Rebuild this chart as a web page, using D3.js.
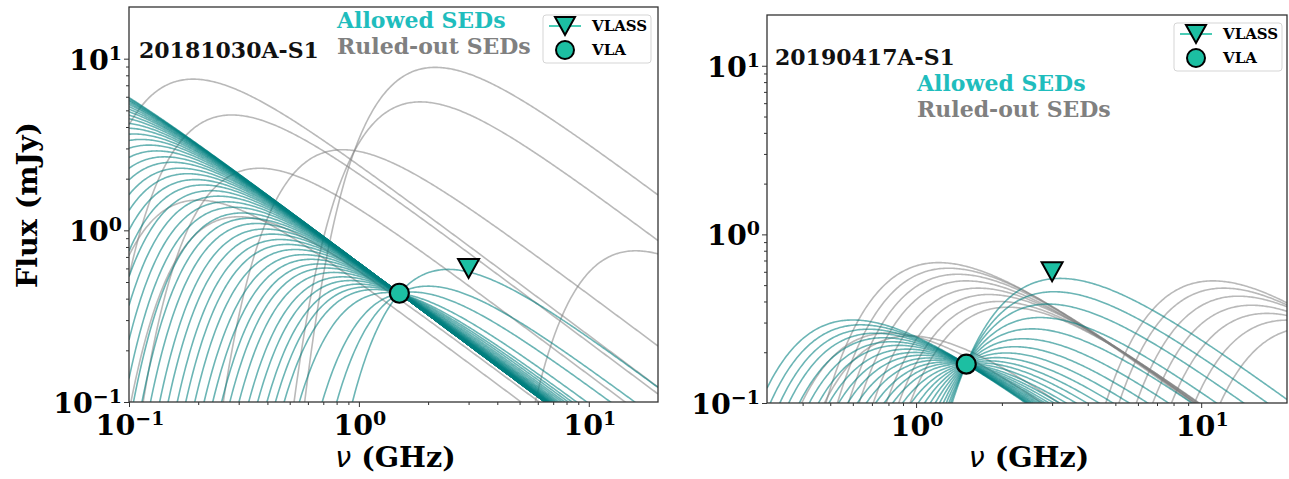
<!doctype html>
<html>
<head>
<meta charset="utf-8">
<script src="https://cdnjs.cloudflare.com/ajax/libs/d3/7.8.5/d3.min.js"></script>
<style>
  body{margin:0;background:#fff;}
  text{font-family:"DejaVu Serif",serif;font-weight:bold;}
</style>
</head>
<body>
<svg id="chart" width="1289" height="479"></svg>
<script>
// ---- data ----
// SED model: flux = Fpeak * (nu/nupeak)^-thinIndex * exp(thinIndex/cutIndex * (1 - (nu/nupeak)^-cutIndex))
var cutIndex = 1.9;

// 20181030A-S1
var vlaLeft = {nu: 1.5, flux: 0.43};
var vlassLeft = {nu: 3.0, flux: 0.6};
var thinLeft = 1.0;
// peak frequencies (GHz) of the allowed SEDs; they are scaled to go through the VLA point
var allowedLeft = [0.038, 0.041, 0.045, 0.048, 0.052, 0.056, 0.061, 0.066, 0.071, 0.077,
  0.083, 0.090, 0.097, 0.105, 0.113, 0.122, 0.132, 0.143, 0.154, 0.167,
  0.180, 0.195, 0.210, 0.227, 0.245, 0.265, 0.286, 0.310, 0.334, 0.360,
  0.390, 0.420, 0.455, 0.490, 0.530, 0.575, 0.620, 0.670, 0.720, 0.780,
  0.850, 0.920, 1.00, 1.08, 1.17, 1.35, 1.70, 2.00, 2.45];
// ruled-out SEDs: [peak GHz, peak mJy]
var ruledLeft = [[2.15, 8.9], [1.85, 5.6], [0.85, 2.95], [0.19, 7.6], [0.28, 4.7],
  [0.37, 2.3], [0.2, 1.5], [0.3, 1.2], [16, 0.76]];

// 20190417A-S1
var vlaRight = {nu: 1.5, flux: 0.17};
var vlassRight = {nu: 3.0, flux: 0.6};
var thinRight = 1.25;
var allowedRight = [0.60, 0.64, 0.68, 0.72, 0.77, 0.82, 0.87, 0.93, 0.99, 1.05,
  1.12, 1.19, 1.27, 1.35, 1.44, 1.56, 1.68, 1.80, 1.93, 2.07,
  2.22, 2.38, 2.55, 2.72, 2.90, 3.05, 3.20];
var ruledRight = [[1.2, 0.68], [1.3, 0.63], [1.4, 0.58], [1.5, 0.53], [1.65, 0.48],
  [1.8, 0.44], [1.95, 0.40], [2.1, 0.37], [0.8, 0.26], [0.95, 0.25],
  [11, 0.53], [12, 0.48], [13.5, 0.43], [15, 0.38], [17, 0.34], [20, 0.31], [24, 0.28]];

var majorY = [0.1, 1, 10];
var minorY = [0.2, 0.3, 0.4, 0.5, 0.6, 0.7, 0.8, 0.9, 2, 3, 4, 5, 6, 7, 8, 9];
var majorXLeft = [0.1, 1, 10];
var majorXRight = [1, 10];
var minorX = [0.2, 0.3, 0.4, 0.5, 0.6, 0.7, 0.8, 0.9, 2, 3, 4, 5, 6, 7, 8, 9];

var tealLine = "#008080", grayLine = "#808080", markerFill = "#1cbfa2";

var svg = d3.select("#chart");

function shape(x, a){
  return Math.pow(x, -a) * Math.exp((a / cutIndex) * (1 - Math.pow(x, -cutIndex)));
}

function drawPanel(p){
  var x = d3.scaleLog().domain(p.xDom).range([p.left, p.right]);
  var y = d3.scaleLog().domain([0.1, 20]).range([p.bottom, p.top]);
  var g = svg.append("g");

  var clipId = "clip" + p.id;
  svg.append("clipPath").attr("id", clipId).append("rect")
    .attr("x", p.left).attr("y", p.top)
    .attr("width", p.right - p.left).attr("height", p.bottom - p.top);

  var grid = d3.range(0, 401).map(i => Math.pow(10, Math.log10(p.xDom[0]) + i / 400 * Math.log10(p.xDom[1] / p.xDom[0])));
  var line = d3.line().x(d => x(d[0])).y(d => y(Math.max(d[1], 0.01)));

  function curve(nup, fp){
    return grid.map(nu => [nu, fp * shape(nu / nup, p.thin)]);
  }

  var curves = g.append("g").attr("clip-path", "url(#" + clipId + ")");
  curves.selectAll("path.ruled").data(p.ruled).enter().append("path")
    .attr("class", "ruled")
    .attr("d", d => line(curve(d[0], d[1])))
    .style("fill", "none").style("stroke", grayLine)
    .style("stroke-opacity", 0.55).style("stroke-width", 1.6);

  curves.selectAll("path.allowed").data(p.allowed).enter().append("path")
    .attr("class", "allowed")
    .attr("d", nup => line(curve(nup, p.vla.flux / shape(p.vla.nu / nup, p.thin))))
    .style("fill", "none").style("stroke", tealLine)
    .style("stroke-opacity", 0.58).style("stroke-width", 1.6);

  // ticks
  var ax = g.append("g").attr("transform", "translate(0," + p.bottom + ")");
  ax.call(d3.axisBottom(x).tickValues(p.majorX).tickSize(5).tickFormat(""));
  ax.append("g").call(d3.axisBottom(x).tickValues(minorX.filter(v => v > p.xDom[0])).tickSize(3).tickFormat(""));
  var ay = g.append("g").attr("transform", "translate(" + p.left + ",0)");
  ay.call(d3.axisLeft(y).tickValues(majorY).tickSize(5).tickFormat(""));
  ay.append("g").call(d3.axisLeft(y).tickValues(minorY).tickSize(3).tickFormat(""));
  g.selectAll(".domain").remove();
  g.selectAll(".tick line").style("stroke", "#333");

  g.append("rect").attr("x", p.left).attr("y", p.top)
    .attr("width", p.right - p.left).attr("height", p.bottom - p.top)
    .style("fill", "none").style("stroke", "#333").style("stroke-width", 1.3);

  function powLabel(t, e){
    t.append("tspan").text("10");
    t.append("tspan").attr("dy", -10).style("font-size", "19px").text(e < 0 ? "\u2212" + (-e) : e);
  }
  majorY.forEach(v => {
    var t = g.append("text").attr("x", p.left - 7).attr("y", y(v) + 11)
      .attr("text-anchor", "end").style("font-size", "28.5px");
    powLabel(t, Math.round(Math.log10(v)));
  });
  p.majorX.forEach(v => {
    var t = g.append("text").attr("x", x(v) + 1).attr("y", p.bottom + 33)
      .attr("text-anchor", "middle").style("font-size", "28.5px");
    powLabel(t, Math.round(Math.log10(v)));
  });

  var xl = g.append("text").attr("x", (p.left + p.right) / 2 + 2).attr("y", 467)
    .attr("text-anchor", "middle").style("font-size", "28.5px");
  xl.append("tspan").style("font-family", "DejaVu Sans").style("font-style", "italic")
    .style("font-weight", "normal").text("\u03bd");
  xl.append("tspan").text(" (GHz)");

  // markers
  g.append("path")
    .attr("d", "M-10.5,-9.5L10.5,-9.5L0,9.5Z")
    .attr("transform", "translate(" + x(p.vlass.nu) + "," + y(p.vlass.flux) + ")")
    .style("fill", markerFill).style("stroke", "#000").style("stroke-width", 2);
  g.append("circle").attr("cx", x(p.vla.nu)).attr("cy", y(p.vla.flux)).attr("r", 9.5)
    .style("fill", markerFill).style("stroke", "#000").style("stroke-width", 2.2);

  // annotations
  g.append("text").attr("x", p.name[0]).attr("y", p.name[1]).style("font-size", "22px")
    .style("fill", "#111").text(p.name[2]);
  g.append("text").attr("x", p.note[0]).attr("y", p.note[1]).style("font-size", "22px")
    .style("fill", "#1fbdbd").text("Allowed SEDs");
  g.append("text").attr("x", p.note[0]).attr("y", p.note[1] + 26).style("font-size", "22px")
    .style("fill", "#808080").text("Ruled-out SEDs");

  // legend
  var L = p.legend;
  g.append("rect").attr("x", L[0]).attr("y", L[1]).attr("width", 108).attr("height", 48).attr("rx", 3)
    .style("fill", "#fff").style("fill-opacity", 0.8).style("stroke", "#d5d5d5");
  var mx = L[0] + 22;
  g.append("line").attr("x1", mx - 16).attr("x2", mx + 16).attr("y1", L[1] + 11).attr("y2", L[1] + 11)
    .style("stroke", markerFill).style("stroke-width", 1.6);
  g.append("path").attr("d", "M-10,-9L10,-9L0,9Z")
    .attr("transform", "translate(" + mx + "," + (L[1] + 11) + ")")
    .style("fill", markerFill).style("stroke", "#000").style("stroke-width", 2);
  g.append("circle").attr("cx", mx).attr("cy", L[1] + 35).attr("r", 9)
    .style("fill", markerFill).style("stroke", "#000").style("stroke-width", 2);
  g.append("text").attr("x", L[0] + 49).attr("y", L[1] + 16).style("font-size", "15px").text("VLASS");
  g.append("text").attr("x", L[0] + 49).attr("y", L[1] + 40).style("font-size", "15px").text("VLA");
}

drawPanel({id: "L", left: 129, right: 658, top: 7, bottom: 402, xDom: [0.1, 20],
  majorX: majorXLeft, thin: thinLeft, allowed: allowedLeft, ruled: ruledLeft,
  vla: vlaLeft, vlass: vlassLeft,
  name: [139, 58, "20181030A-S1"], note: [337, 28], legend: [543, 15]});

drawPanel({id: "R", left: 767, right: 1287, top: 15, bottom: 403, xDom: [0.3, 20],
  majorX: majorXRight, thin: thinRight, allowed: allowedRight, ruled: ruledRight,
  vla: vlaRight, vlass: vlassRight,
  name: [775, 65, "20190417A-S1"], note: [917, 91], legend: [1174, 23]});

svg.append("text").attr("transform", "translate(37,205) rotate(-90)")
  .attr("text-anchor", "middle").style("font-size", "28.5px").text("Flux (mJy)");
</script>
</body>
</html>
